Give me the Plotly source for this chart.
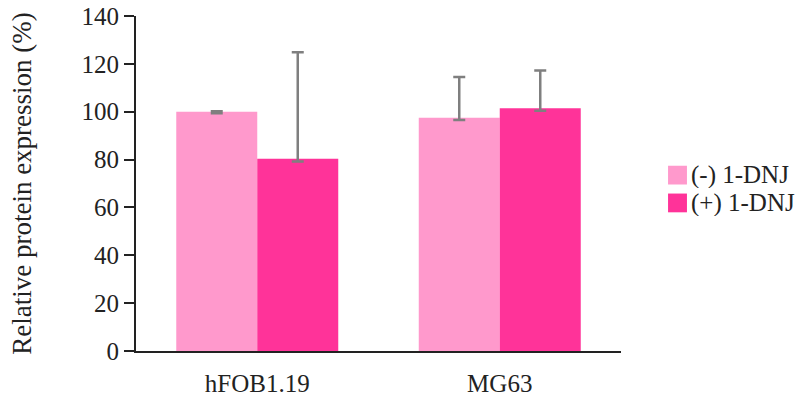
import plotly.graph_objects as go

categories = ["hFOB1.19", "MG63"]
series_names = ["(-) 1-DNJ", "(+) 1-DNJ"]
minus_dnj = [100.0, 97.5]
plus_dnj = [80.3, 101.4]
minus_dnj_err_up = [0.2, 17.0]
minus_dnj_err_down = [0.6, 1.0]
plus_dnj_err_up = [44.5, 15.8]
plus_dnj_err_down = [1.1, 1.0]
y_ticks = [0, 20, 40, 60, 80, 100, 120, 140]

colors = ["#FF99CC", "#FF3399"]
font_family = "Liberation Serif, Times New Roman, serif"
text_color = "#222222"

fig = go.Figure()
for name, vals, up, down, col in [
    (series_names[0], minus_dnj, minus_dnj_err_up, minus_dnj_err_down, colors[0]),
    (series_names[1], plus_dnj, plus_dnj_err_up, plus_dnj_err_down, colors[1]),
]:
    fig.add_trace(go.Bar(
        x=categories, y=vals, name=name,
        marker=dict(color=col, line=dict(width=0)),
        error_y=dict(type="data", array=up, arrayminus=down, symmetric=False,
                     color="#7F7F7F", thickness=2.5, width=6),
    ))

# legend: colour squares plus labels to the right of the plot area
legend_x0, legend_size = 1.097, 0.039
legend_rows = [0.525, 0.442]
for name, col, yc in zip(series_names, colors, legend_rows):
    fig.add_shape(type="rect", xref="paper", yref="paper",
                  x0=legend_x0, x1=legend_x0 + legend_size,
                  y0=yc - 0.028, y1=yc + 0.028,
                  fillcolor=col, line=dict(width=0))
    fig.add_annotation(text=name, xref="paper", yref="paper",
                       x=legend_x0 + legend_size + 0.004, y=yc,
                       xanchor="left", yanchor="middle", showarrow=False,
                       height=26, valign="middle",
                       font=dict(family=font_family, size=25, color=text_color))

fig.update_layout(
    width=810, height=399,
    margin=dict(l=136, r=189, t=16, b=48),
    paper_bgcolor="white", plot_bgcolor="white",
    barmode="group", bargap=0.332, bargroupgap=0,
    font=dict(family=font_family, size=25, color=text_color),
    showlegend=False,
)
fig.update_yaxes(
    range=[0, 140], tickvals=y_ticks, showgrid=False, zeroline=False,
    showline=True, linecolor=text_color, linewidth=2,
    ticks="outside", ticklen=10, tickwidth=2, tickcolor=text_color,
    tickfont=dict(size=25), automargin=False,
    title=dict(text="Relative protein expression (%)", standoff=42,
               font=dict(size=27)),
)
fig.update_xaxes(
    showgrid=False, zeroline=False, showline=True, linecolor=text_color, linewidth=2,
    ticks="outside", ticklen=9, tickcolor="rgba(0,0,0,0)",
    tickfont=dict(size=25), automargin=False,
)

fig.write_html("out.html")
